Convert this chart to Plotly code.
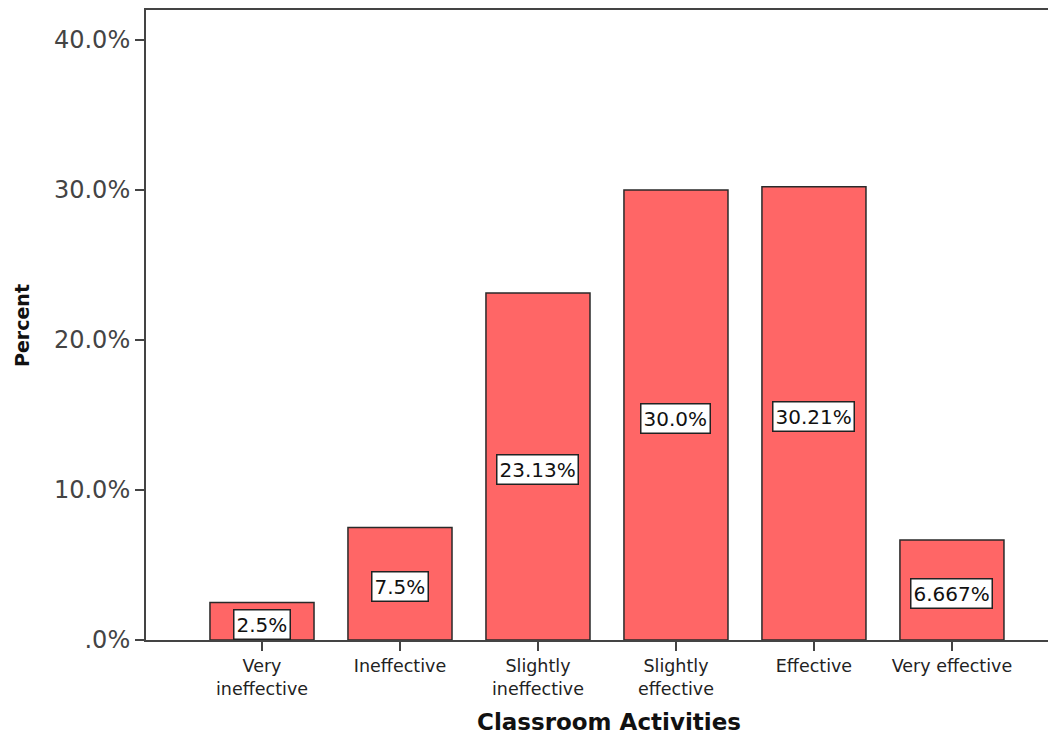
import plotly.graph_objects as go

categories = ["Very<br>ineffective", "Ineffective", "Slightly<br>ineffective",
              "Slightly<br>effective", "Effective", "Very effective"]
values = [2.5, 7.5, 23.13, 30.0, 30.21, 6.667]
value_labels = ["2.5%", "7.5%", "23.13%", "30.0%", "30.21%", "6.667%"]
y_tick_vals = [0, 10, 20, 30, 40]
y_tick_text = [".0%", "10.0%", "20.0%", "30.0%", "40.0%"]

x_pos = list(range(len(categories)))
FONT = "DejaVu Sans, Verdana, sans-serif"

fig = go.Figure()
fig.add_trace(go.Bar(
    x=x_pos, y=values, width=0.754,
    marker=dict(color="#ff6666", line=dict(color="#2a2a2a", width=1.5)),
    hoverinfo="skip",
))

for xi, v, lab in zip(x_pos, values, value_labels):
    fig.add_annotation(
        x=xi, y=v / 2, xref="x", yref="y", text=lab, showarrow=False,
        font=dict(family=FONT, size=20, color="#111111"),
        bgcolor="white", bordercolor="#222222", borderwidth=1.5, borderpad=2,
        yshift=-3,
    )

# axis titles
fig.add_annotation(
    x=-0.1351, y=0.5, xref="paper", yref="paper", text="<b>Percent</b>",
    textangle=-90, showarrow=False, xanchor="center", yanchor="middle",
    font=dict(family=FONT, size=19, color="#111111"),
)
fig.add_annotation(
    x=0.5044, y=-0.1302, xref="paper", yref="paper", text="<b>Classroom Activities</b>",
    showarrow=False, xanchor="center", yanchor="middle",
    font=dict(family=FONT, size=23, color="#111111"),
)

fig.update_layout(
    width=1056, height=738,
    margin=dict(l=138, r=0, t=2, b=106),
    paper_bgcolor="white", plot_bgcolor="white",
    showlegend=False,
    font=dict(family=FONT),
)
fig.update_xaxes(
    range=[-0.8406, 5.812],
    tickvals=x_pos, ticktext=categories,
    tickfont=dict(family=FONT, size=17.5, color="#222222"),
    ticks="outside", ticklen=9, tickwidth=2, tickcolor="#444444",
    showline=True, linecolor="#444444", linewidth=2, mirror=True,
    showgrid=False, zeroline=False, automargin=False,
)
fig.update_yaxes(
    range=[0, 42],
    tickvals=y_tick_vals, ticktext=y_tick_text,
    tickfont=dict(family=FONT, size=24, color="#444444"),
    ticks="outside", ticklen=9, tickwidth=2, tickcolor="#444444",
    showline=True, linecolor="#444444", linewidth=2,
    showgrid=False, zeroline=False, automargin=False,
)

fig.write_html("out.html")
